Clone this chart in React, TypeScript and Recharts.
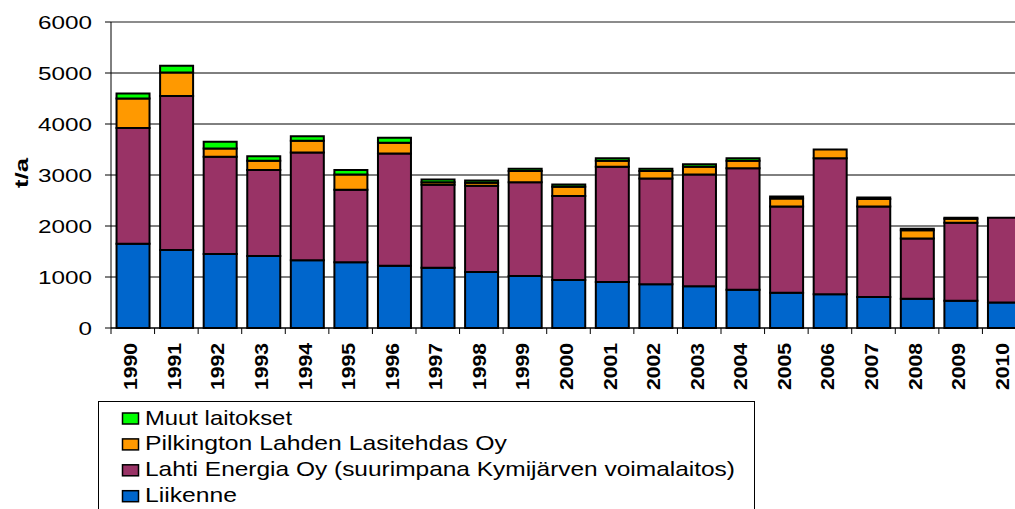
import { Bar, BarChart, CartesianGrid, Legend, ReferenceLine, XAxis, YAxis } from 'recharts';

const years = ['1990', '1991', '1992', '1993', '1994', '1995', '1996', '1997', '1998', '1999', '2000', '2001', '2002', '2003', '2004', '2005', '2006', '2007', '2008', '2009', '2010'];
const liikenne = [1650, 1530, 1450, 1410, 1330, 1290, 1220, 1180, 1100, 1020, 940, 900, 860, 820, 750, 690, 660, 610, 575, 535, 500];
const lahtiEnergia = [2270, 3020, 1910, 1690, 2110, 1420, 2200, 1630, 1690, 1840, 1650, 2260, 2070, 2190, 2380, 1690, 2670, 1770, 1180, 1530, 1660];
const pilkington = [580, 460, 160, 180, 230, 300, 210, 50, 60, 220, 180, 120, 150, 150, 150, 160, 170, 150, 160, 75, 0];
const muut = [100, 130, 130, 90, 90, 90, 100, 50, 40, 45, 45, 50, 45, 50, 50, 40, 0, 30, 30, 20, 0];
const yTicks = [0, 1000, 2000, 3000, 4000, 5000, 6000];

const data = years.map((year, i) => ({
  year,
  liikenne: liikenne[i],
  lahti: lahtiEnergia[i],
  pilkington: pilkington[i],
  muut: muut[i],
}));

const FONT = "'Liberation Sans', Arial, sans-serif";
const CHART_W = 1040;
const PLOT_LEFT = 111;
const PLOT_RIGHT = 1026;
const HALF_BAND = (PLOT_RIGHT - PLOT_LEFT) / years.length / 2;

const legendItems = [
  { label: 'Muut laitokset', color: '#00FF00', textWidth: 147 },
  { label: 'Pilkington Lahden Lasitehdas Oy', color: '#FF9900', textWidth: 362 },
  { label: 'Lahti Energia Oy (suurimpana Kymijärven voimalaitos)', color: '#993366', textWidth: 590 },
  { label: 'Liikenne', color: '#0066CC', textWidth: 92 },
];

function YTick({ x, y, payload }: any) {
  const s = String(payload.value);
  return (
    <text x={x} y={y} dy={6.6} textAnchor="end" fontFamily={FONT} fontSize={18.5} fill="#000"
      textLength={13.5 * s.length} lengthAdjust="spacingAndGlyphs">
      {s}
    </text>
  );
}

function XTick({ x, y, payload }: any) {
  return (
    <g>
      <line x1={x - HALF_BAND} x2={x - HALF_BAND} y1={y} y2={y + 6} stroke="#000" />
      <text transform={`translate(${x + 4.5},${y + 15}) rotate(-90)`} textAnchor="end" fontFamily={FONT}
        fontSize={18.5} fontWeight="bold" fill="#000" textLength={47} lengthAdjust="spacingAndGlyphs">
        {payload.value}
      </text>
    </g>
  );
}

function LegendBox() {
  return (
    <svg width={658} height={112} style={{ display: 'block' }}>
      <rect x={0.5} y={0.5} width={656} height={120} fill="#fff" stroke="#000" />
      {legendItems.map((item, i) => (
        <g key={item.label}>
          <rect x={24.5} y={12 + i * 25.9} width={16} height={11} fill={item.color} stroke="#000" strokeWidth={1.5} />
          <text x={47} y={23.5 + i * 25.9} fontFamily={FONT} fontSize={21} fill="#000"
            textLength={item.textWidth} lengthAdjust="spacingAndGlyphs">
            {item.label}
          </text>
        </g>
      ))}
    </svg>
  );
}

export default function App() {
  return (
    <div style={{ position: 'absolute', left: 0, top: 0, width: 1015, height: 509, overflow: 'hidden', background: '#fff' }}>
      <BarChart width={CHART_W} height={509} data={data} barCategoryGap="12.7%"
        margin={{ top: 22, right: CHART_W - PLOT_RIGHT, left: 0, bottom: 0 }}>
        <CartesianGrid vertical={false} stroke="#000" />
        <ReferenceLine y={6000} stroke="#999" />
        <XAxis dataKey="year" height={69} tickLine={false} tickSize={0} tickMargin={0}
          axisLine={{ stroke: '#000' }} tick={<XTick />} interval={0} />
        <YAxis width={PLOT_LEFT} domain={[0, 6000]} ticks={yTicks} tickSize={6} tickMargin={13}
          axisLine={{ stroke: '#000' }} tickLine={{ stroke: '#000' }} tick={<YTick />}
          label={() => (
            <text transform="translate(28,173) rotate(-90)" textAnchor="middle" fontFamily={FONT}
              fontSize={19} fontWeight="bold" fill="#000" textLength={30} lengthAdjust="spacingAndGlyphs">
              t/a
            </text>
          )} />
        <Bar dataKey="liikenne" stackId="a" fill="#0066CC" stroke="#000" strokeWidth={2} isAnimationActive={false} />
        <Bar dataKey="lahti" stackId="a" fill="#993366" stroke="#000" strokeWidth={2} isAnimationActive={false} />
        <Bar dataKey="pilkington" stackId="a" fill="#FF9900" stroke="#000" strokeWidth={2} isAnimationActive={false} />
        <Bar dataKey="muut" stackId="a" fill="#00FF00" stroke="#000" strokeWidth={2} isAnimationActive={false} />
        <Legend verticalAlign="bottom" align="left" layout="horizontal" content={() => <LegendBox />}
          wrapperStyle={{ left: 98, top: 401, bottom: 'auto', width: 658, height: 112 }} />
      </BarChart>
    </div>
  );
}
